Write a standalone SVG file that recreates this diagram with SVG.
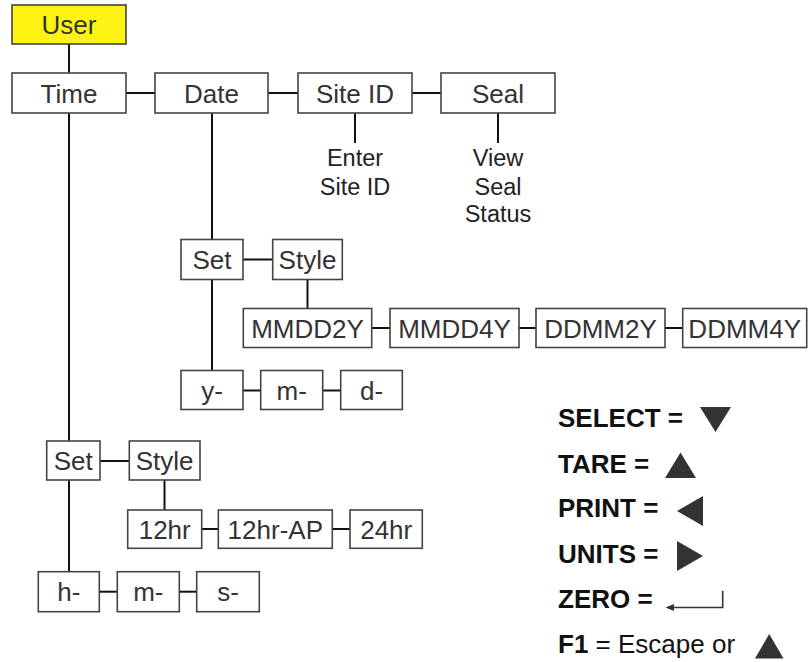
<svg xmlns="http://www.w3.org/2000/svg" width="812" height="662" viewBox="0 0 812 662">
<style>
.box{fill:#fff;stroke:#444;stroke-width:1.6}
.lbl{font-family:"Liberation Sans",Arial,sans-serif;font-size:26px;fill:#333;text-anchor:middle}
.sub{font-family:"Liberation Sans",Arial,sans-serif;font-size:23.5px;fill:#222;text-anchor:middle}
.leg{font-family:"Liberation Sans",Arial,sans-serif;font-size:26px;fill:#111}
.b{font-weight:bold}
.con line{stroke:#111;stroke-width:2}
.tri{fill:#333}
</style>
<rect width="812" height="662" fill="#fff"/>
<g class="con">
<line x1="69" y1="44" x2="69" y2="73"/>
<line x1="126" y1="93" x2="155" y2="93"/>
<line x1="268" y1="93" x2="298" y2="93"/>
<line x1="412" y1="93" x2="441" y2="93"/>
<line x1="355" y1="113" x2="355" y2="143"/>
<line x1="498" y1="113" x2="498" y2="143"/>
<line x1="69" y1="113" x2="69" y2="441"/>
<line x1="212" y1="113" x2="212" y2="239.5"/>
<line x1="243" y1="259.5" x2="272.7" y2="259.5"/>
<line x1="307.5" y1="279.5" x2="307.5" y2="308.5"/>
<line x1="371.7" y1="328" x2="390" y2="328"/>
<line x1="519" y1="328" x2="536" y2="328"/>
<line x1="665" y1="328" x2="682.7" y2="328"/>
<line x1="212" y1="279.5" x2="212" y2="370.5"/>
<line x1="243" y1="390.5" x2="260.7" y2="390.5"/>
<line x1="322.7" y1="390.5" x2="340.7" y2="390.5"/>
<line x1="100" y1="461" x2="129.3" y2="461"/>
<line x1="164.5" y1="480" x2="164.5" y2="510"/>
<line x1="201.7" y1="529" x2="218.3" y2="529"/>
<line x1="332.3" y1="529" x2="350" y2="529"/>
<line x1="69" y1="480" x2="69" y2="571.7"/>
<line x1="99.3" y1="591.7" x2="117.3" y2="591.7"/>
<line x1="179.3" y1="591.7" x2="196.7" y2="591.7"/>
</g>
<g id="user"><rect class="box" x="12" y="5" width="114" height="39" style="fill:#fff314"/><text class="lbl" x="69" y="34">User</text></g>
<g id="time"><rect class="box" x="12" y="73" width="114" height="40"/><text class="lbl" x="69" y="102.5">Time</text></g>
<g id="date"><rect class="box" x="155" y="73" width="113" height="40"/><text class="lbl" x="211.5" y="102.5">Date</text></g>
<g id="siteid"><rect class="box" x="298" y="73" width="114" height="40"/><text class="lbl" x="355" y="102.5">Site ID</text></g>
<g id="seal"><rect class="box" x="441" y="73" width="114" height="40"/><text class="lbl" x="498" y="102.5">Seal</text></g>
<g id="enter-site-id"><text class="sub" x="355" y="166">Enter</text><text class="sub" x="355" y="195">Site ID</text></g>
<g id="view-seal-status"><text class="sub" x="498" y="166">View</text><text class="sub" x="498" y="195">Seal</text><text class="sub" x="498" y="222">Status</text></g>
<g id="date-set"><rect class="box" x="181" y="239.5" width="62" height="40"/><text class="lbl" x="212" y="269">Set</text></g>
<g id="date-style"><rect class="box" x="272.7" y="239.5" width="69.6" height="40"/><text class="lbl" x="307.5" y="269">Style</text></g>
<g id="mmdd2y"><rect class="box" x="243.3" y="308.5" width="128.4" height="39"/><text class="lbl" x="307.5" y="337.5">MMDD2Y</text></g>
<g id="mmdd4y"><rect class="box" x="390" y="308.5" width="129" height="39"/><text class="lbl" x="454.5" y="337.5">MMDD4Y</text></g>
<g id="ddmm2y"><rect class="box" x="536" y="308.5" width="129" height="39"/><text class="lbl" x="600.5" y="337.5">DDMM2Y</text></g>
<g id="ddmm4y"><rect class="box" x="682.7" y="308.5" width="124" height="39"/><text class="lbl" x="744.7" y="337.5">DDMM4Y</text></g>
<g id="y"><rect class="box" x="181" y="370.5" width="62" height="39"/><text class="lbl" x="212" y="399.5">y-</text></g>
<g id="dm"><rect class="box" x="260.7" y="370.5" width="62" height="39"/><text class="lbl" x="291.7" y="399.5">m-</text></g>
<g id="d"><rect class="box" x="340.7" y="370.5" width="61.6" height="39"/><text class="lbl" x="371.5" y="399.5">d-</text></g>
<g id="time-set"><rect class="box" x="46.7" y="441" width="53.3" height="39"/><text class="lbl" x="73.3" y="470">Set</text></g>
<g id="time-style"><rect class="box" x="129.3" y="441" width="70.7" height="39"/><text class="lbl" x="164.6" y="470">Style</text></g>
<g id="12hr"><rect class="box" x="127.7" y="510" width="74" height="38.3"/><text class="lbl" x="164.7" y="538.5">12hr</text></g>
<g id="12hr-ap"><rect class="box" x="218.3" y="510" width="114" height="38.3"/><text class="lbl" x="275.3" y="538.5">12hr-AP</text></g>
<g id="24hr"><rect class="box" x="350" y="510" width="72.3" height="38.3"/><text class="lbl" x="386.2" y="538.5">24hr</text></g>
<g id="h"><rect class="box" x="38.3" y="571.7" width="61" height="40"/><text class="lbl" x="68.8" y="601">h-</text></g>
<g id="tm"><rect class="box" x="117.3" y="571.7" width="62" height="40"/><text class="lbl" x="148.3" y="601">m-</text></g>
<g id="s"><rect class="box" x="196.7" y="571.7" width="62.6" height="40"/><text class="lbl" x="228" y="601">s-</text></g>
<g id="legend">
<text class="leg b" x="558" y="427">SELECT =</text>
<polygon class="tri" points="700,407 731,407 715.5,432"/>
<text class="leg b" x="558" y="472.5">TARE =</text>
<polygon class="tri" points="665,478 696,478 680.5,452.5"/>
<text class="leg b" x="558" y="516.7">PRINT =</text>
<polygon class="tri" points="677,511 703,496 703,526"/>
<text class="leg b" x="558" y="562.7">UNITS =</text>
<polygon class="tri" points="677,541 677,571 703,556"/>
<text class="leg b" x="558" y="607.5">ZERO =</text>
<path d="M722.7,590.7 V607.5 H672" fill="none" stroke="#333" stroke-width="1.6"/>
<polygon class="tri" points="665.5,607.5 674,604 674,611"/>
<text class="leg" x="558" y="652.7"><tspan class="b">F1</tspan> = Escape or</text>
<polygon class="tri" points="755,658.5 783.5,658.5 769.2,634"/>
</g>
</svg>
